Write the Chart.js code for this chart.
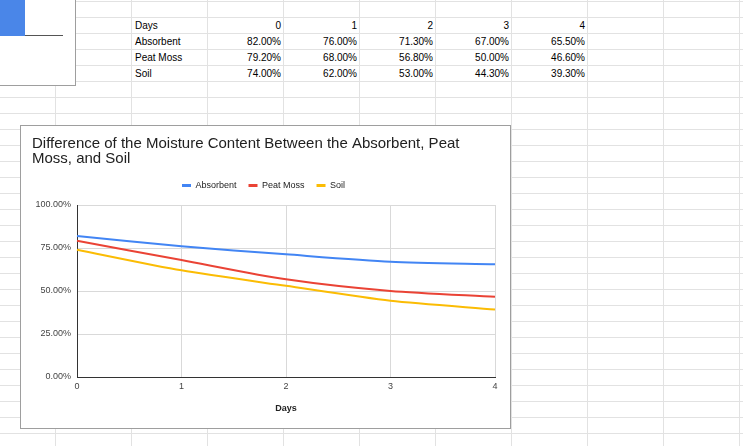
<!DOCTYPE html>
<html>
<head>
<meta charset="utf-8">
<script src="https://cdn.jsdelivr.net/npm/chart.js@4"></script>
<style>
  html, body {
    margin: 0;
    padding: 0;
  }
  body {
    width: 743px;
    height: 446px;
    overflow: hidden;
    position: relative;
    background-color: #fff;
    /* spreadsheet grid lines */
    background-image:
      linear-gradient(to right, #e2e2e2 1px, transparent 1px),
      linear-gradient(to bottom, #e2e2e2 1px, transparent 1px);
    background-size: 76px 100%, 100% 16px;
    background-position: 55px 0, 0 1px;
    font-family: "Liberation Sans", Arial, sans-serif;
  }
  .cell {
    position: absolute;
    height: 15px;
    line-height: 15px;
    font-size: 10px;
    color: #000;
    white-space: nowrap;
  }
  .cell.left { padding-left: 3px; text-align: left; }
  .cell.right { padding-right: 2px; text-align: right; }
  /* piece of another chart that sits at the top left */
  #otherChart {
    position: absolute;
    left: -10px;
    top: -10px;
    width: 84px;
    height: 94px;
    border: 1px solid #9e9e9e;
    background: #fff;
  }
  #otherChart .bar {
    position: absolute;
    left: 0;
    top: 0;
    width: 34px;
    height: 45px;
    background: #4a86e8;
  }
  #otherChart .axis {
    position: absolute;
    left: 34px;
    top: 44px;
    width: 38px;
    height: 1px;
    background: #555;
  }
  #chartBox {
    position: absolute;
    left: 20px;
    top: 125px;
    width: 489px;
    height: 302px;
    border: 1px solid #9e9e9e;
    background: #fff;
  }
  #chartBox canvas {
    display: block;
  }
</style>
</head>
<body>

<div id="otherChart"><div class="bar"></div><div class="axis"></div></div>
<div id="table"></div>

<div id="chartBox">
  <canvas id="line-chart" width="489" height="302"></canvas>
</div>

<script>
// Data read from the sheet
const days = [0, 1, 2, 3, 4];
const absorbent = [82.0, 76.0, 71.3, 67.0, 65.5];
const peatMoss = [79.2, 68.0, 56.8, 50.0, 46.6];
const soil = [74.0, 62.0, 53.0, 44.3, 39.3];
const yTicks = [0, 25, 50, 75, 100];

const chartTitle = ["Difference of the Moisture Content Between the Absorbent, Peat", "Moss, and Soil"];

// Fill the spreadsheet cells
const rows = [
  { label: "Days", values: days.map(d => String(d)) },
  { label: "Absorbent", values: absorbent.map(v => v.toFixed(2) + "%") },
  { label: "Peat Moss", values: peatMoss.map(v => v.toFixed(2) + "%") },
  { label: "Soil", values: soil.map(v => v.toFixed(2) + "%") },
];

const table = document.getElementById("table");
const colLeft = 131; // left edge of the label column
const colWidth = 76;
const rowTop = 17;   // top of the "Days" row
const rowHeight = 16;

rows.forEach(function (row, r) {
  const top = rowTop + r * rowHeight + 1;
  const label = document.createElement("div");
  label.className = "cell left";
  label.style.left = (colLeft + 1) + "px";
  label.style.top = top + "px";
  label.style.width = (colWidth - 4) + "px";
  label.textContent = row.label;
  table.appendChild(label);

  row.values.forEach(function (text, c) {
    const cell = document.createElement("div");
    cell.className = "cell right";
    cell.style.left = (colLeft + (c + 1) * colWidth + 1) + "px";
    cell.style.top = top + "px";
    cell.style.width = (colWidth - 3) + "px";
    cell.textContent = text;
    table.appendChild(cell);
  });
});

// Chart
Chart.defaults.font.family = '"Liberation Sans", Arial, sans-serif';

// push the plot a little further below the legend
const legendGap = {
  id: "legendGap",
  beforeInit(chart) {
    const fit = chart.legend.fit;
    chart.legend.fit = function () {
      fit.bind(chart.legend)();
      this.height += 5;
    };
  }
};

const ctx = document.getElementById("line-chart").getContext("2d");

const myChart = new Chart(ctx, {
  type: "line",
  data: {
    labels: days,
    datasets: [
      {
        label: "Absorbent",
        data: absorbent,
        borderColor: "#4285f4",
        backgroundColor: "#4285f4",
        borderWidth: 2,
        pointRadius: 0,
        tension: 0.25,
        fill: false,
      },
      {
        label: "Peat Moss",
        data: peatMoss,
        borderColor: "#ea4335",
        backgroundColor: "#ea4335",
        borderWidth: 2,
        pointRadius: 0,
        tension: 0.25,
        fill: false,
      },
      {
        label: "Soil",
        data: soil,
        borderColor: "#fbbc04",
        backgroundColor: "#fbbc04",
        borderWidth: 2,
        pointRadius: 0,
        tension: 0.25,
        fill: false,
      },
    ],
  },
  options: {
    responsive: false,
    animation: false,
    layout: {
      padding: { top: 10, left: 11, right: 15, bottom: 0 },
    },
    plugins: {
      title: {
        display: true,
        text: chartTitle,
        align: "start",
        color: "#212121",
        font: { size: 15, weight: "normal", lineHeight: 1 },
        padding: { top: 0, bottom: 3 },
      },
      legend: {
        display: true,
        position: "top",
        labels: {
          boxWidth: 9,
          boxHeight: 3,
          padding: 12,
          color: "#222",
          font: { size: 9 },
          generateLabels(chart) {
            return Chart.defaults.plugins.legend.labels.generateLabels(chart)
              .map(l => Object.assign(l, { lineWidth: 0 }));
          },
        },
      },
      tooltip: { enabled: false },
    },
    scales: {
      x: {
        offset: false,
        grid: { color: "#d9d9d9", drawTicks: false },
        border: { color: "#333", width: 1 },
        ticks: { color: "#444", font: { size: 9 }, padding: 4, maxRotation: 0 },
        title: {
          display: true,
          text: "Days",
          color: "#222",
          font: { size: 9, weight: "bold" },
          padding: { top: 0, bottom: 14 },
        },
        afterFit(scale) {
          scale.height = 51;
        },
      },
      y: {
        min: 0,
        max: 100,
        afterBuildTicks(scale) {
          scale.ticks = yTicks.map(v => ({ value: v }));
        },
        grid: { color: "#d9d9d9", drawTicks: false },
        border: { color: "#333", width: 1 },
        ticks: {
          color: "#444",
          font: { size: 9 },
          padding: 6,
          callback: v => v.toFixed(2) + "%",
        },
        afterFit(scale) {
          scale.width = 45;
        },
      },
    },
  },
  plugins: [legendGap],
});
</script>
</body>
</html>
